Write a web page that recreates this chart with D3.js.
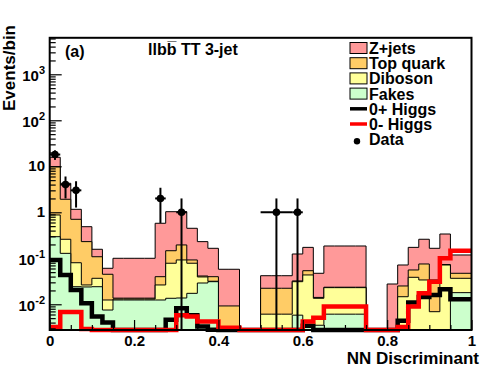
<!DOCTYPE html>
<html>
<head>
<meta charset="utf-8">
<script src="https://cdn.jsdelivr.net/npm/d3@7"></script>
<style>
  body { margin: 0; background: #fff; }
  text { font-family: "Liberation Sans", Arial, sans-serif; font-weight: bold; fill: #000; }
</style>
</head>
<body>
<svg id="chart" width="496" height="372"></svg>
<script>
// ---- data: 40 bins of 0.025 on the NN discriminant
var nBins = 40;
var binWidth = 0.025;

var fakes = [0.295, 0.128, 0.0241, 0.0238, 0.0241, 0.0075, 0.0124, 0.0124, 0.0124, 0.0124,
             0.0124, 0.0135, 0.0137, 0.0173, 0.029, 0.031, 0, 0, 0, 0,
             0, 0, 0, 0.0058, 0.0035, 0.0035, 0.0061, 0.0061, 0.0061, 0.0061,
             0, 0, 0, 0, 0, 0, 0, 0, 0.0179, 0.0179];
var diboson = [0.579, 0.131, 0.0559, 0.0025, 0.0126, 0.0049, 0.0006, 0.0006, 0.0006, 0.0006,
               0.0139, 0.0645, 0.0783, 0.0607, 0.0103, 0.0007, 0, 0, 0, 0,
               0.0061, 0.0061, 0.0061, 0.0252, 0.0399, 0.01, 0.0169, 0.0169, 0.0169, 0.0169,
               0, 0, 0, 0.0146, 0.0386, 0.0338, 0.0069, 0.0715, 0.0188, 0.0188];
var topQuark = [8.93, 1.66, 0.624, 0.204, 0.0713, 0.0325, 0.0006, 0.0006, 0.0006, 0.0006,
                0.0135, 0.068, 0.103, 0.014, 0.0019, 0.0081, 0.0092, 0.0092, 0, 0,
                0.0162, 0.0162, 0.0162, 0.0012, 0.0103, 0.0006, 0.0005, 0.0005, 0.0005, 0.0005,
                0, 0, 0, 0.0104, 0.0171, 0.0414, 0.0269, 0.0015, 0.0105, 0.0105];
var zJets = [5.9, 2.35, 0.456, 0.256, 0.049, 0.0157, 0.0864, 0.0864, 0.0864, 0.0864,
             0.537, 0.884, 0.835, 0.357, 0.189, 0.125, 0.0485, 0.0485, 0, 0,
             0.0195, 0.0195, 0.0195, 0.0918, 0.119, 0.0331, 0.1615, 0.1615, 0.1615, 0.1615,
             0, 0, 0.0276, 0.0465, 0.117, 0.184, 0.131, 0.264, 0.0708, 0.0708];

var higgsPlus = [0.092, 0.0434, 0.0205, 0.0105, 0.0054, 0.004, 0, 0, 0, 0,
                 0, 0.0046, 0.0082, 0.0058, 0.0033, 0.0028, 0, 0, 0, 0,
                 0, 0, 0, 0, 0.0034, 0, 0, 0, 0, 0,
                 0, 0, 0, 0.0044, 0.011, 0.0144, 0.0159, 0.0212, 0.0128, 0.0128];
var higgsMinus = [0.0032, 0.0068, 0.0068, 0.0029, 0, 0, 0, 0, 0, 0,
                  0, 0, 0.0058, 0.0054, 0.0042, 0.0042, 0.0031, 0.0031, 0, 0,
                  0, 0, 0, 0, 0.0042, 0.0051, 0.0089, 0.0089, 0.0089, 0.0089,
                  0, 0, 0, 0.0032, 0.009, 0.0173, 0.031, 0.100, 0.146, 0.146];

// observed data points
var dataX = [0.0125, 0.0375, 0.0625, 0.2625, 0.3125, 0.5375, 0.5875];
var dataN = [18, 4, 3, 2, 1, 1, 1];
var dataXErr = [0.0125, 0.0125, 0.0125, 0.0125, 0.0125, 0.0375, 0.0125];

var xMajor = [0, 0.2, 0.4, 0.6, 0.8, 1];
var xMinor = [0.05, 0.1, 0.15, 0.25, 0.3, 0.35, 0.45, 0.5, 0.55, 0.65, 0.7, 0.75, 0.85, 0.9, 0.95];
var yExponents = [-2, -1, 0, 1, 2, 3];

var legendItems = [
  { label: "Z+jets", type: "box", color: "#ff9999" },
  { label: "Top quark", type: "box", color: "#ffcc66" },
  { label: "Diboson", type: "box", color: "#ffff99" },
  { label: "Fakes", type: "box", color: "#ccffcc" },
  { label: "0+ Higgs", type: "line", color: "#000000" },
  { label: "0- Higgs", type: "line", color: "#ff0000" },
  { label: "Data", type: "marker", color: "#000000" }
];

// ---- scales
var svg = d3.select("#chart");
var x = d3.scaleLinear().domain([0, 1]).range([49.7, 471.5]);
var y = d3.scaleLog().domain([0.00276, 6214]).range([330, 37.8]).clamp(true);
var yBottom = y.range()[0];

function yv(v) { return y(Math.max(v, 1e-9)); }

// points of a step histogram
function stepPoints(vals) {
  var pts = [];
  vals.forEach(function (v, i) {
    pts.push([i * binWidth, v]);
    pts.push([(i + 1) * binWidth, v]);
  });
  return pts;
}

// ---- stacked backgrounds
var rows = d3.range(nBins).map(function (i) {
  return { fakes: fakes[i], diboson: diboson[i], top: topQuark[i], zjets: zJets[i] };
});
var keys = ["fakes", "diboson", "top", "zjets"];
var colors = { fakes: "#ccffcc", diboson: "#ffff99", top: "#ffcc66", zjets: "#ff9999" };
var stack = d3.stack().keys(keys)(rows);

var area = d3.area()
  .x(function (d) { return x(d[0]); })
  .y0(yBottom)
  .y1(function (d) { return yv(d[1]); });
var line = d3.line()
  .x(function (d) { return x(d[0]); })
  .y(function (d) { return yv(d[1]); });

// draw cumulative histograms from the top one down
stack.slice().reverse().forEach(function (s) {
  var cum = s.map(function (d) { return d[1]; });
  var pts = stepPoints(cum);
  svg.append("path")
    .attr("d", area(pts))
    .attr("fill", colors[s.key]);
  svg.append("path")
    .attr("d", line([[0, 0]].concat(pts, [[1, 0]])))
    .attr("fill", "none")
    .attr("stroke", "#000")
    .attr("stroke-width", 1);
});

// ---- signal lines
[[higgsPlus, "#000"], [higgsMinus, "#ff0000"]].forEach(function (h) {
  svg.append("path")
    .attr("d", line(stepPoints(h[0])))
    .attr("fill", "none")
    .attr("stroke", h[1])
    .attr("stroke-width", 4.5)
    .attr("stroke-linejoin", "miter");
});

// ---- data points with errors
var gData = svg.append("g");
dataX.forEach(function (xc, i) {
  var n = dataN[i], e = Math.sqrt(n);
  gData.append("line")
    .attr("x1", x(xc)).attr("x2", x(xc))
    .attr("y1", yv(n + e)).attr("y2", yv(n - e))
    .attr("stroke", "#000").attr("stroke-width", 2);
  gData.append("line")
    .attr("x1", x(xc - dataXErr[i])).attr("x2", x(xc + dataXErr[i]))
    .attr("y1", yv(n)).attr("y2", yv(n))
    .attr("stroke", "#000").attr("stroke-width", 2);
  gData.append("circle")
    .attr("cx", x(xc)).attr("cy", yv(n)).attr("r", 3.8)
    .attr("fill", "#000");
});

// ---- axes (ticks pointing inside the frame)
var xAxis = svg.append("g")
  .attr("transform", "translate(0," + yBottom + ")")
  .call(d3.axisBottom(x).tickValues(xMajor).tickSize(-10).tickPadding(5)
    .tickFormat(function (d) { return d3.format("")(d); }));
svg.append("g")
  .attr("transform", "translate(0," + yBottom + ")")
  .call(d3.axisBottom(x).tickValues(xMinor).tickSize(-5).tickFormat(""));

var yMinor = [];
d3.range(-3, 4).forEach(function (e) {
  for (var k = 2; k <= 9; k++) {
    var v = k * Math.pow(10, e);
    if (v > y.domain()[0] && v < y.domain()[1]) yMinor.push(v);
  }
});
var yMajor = yExponents.map(function (e) { return Math.pow(10, e); });

svg.append("g")
  .attr("transform", "translate(" + x.range()[0] + ",0)")
  .call(d3.axisLeft(y).tickValues(yMajor).tickSize(-12).tickFormat(""));
svg.append("g")
  .attr("transform", "translate(" + x.range()[0] + ",0)")
  .call(d3.axisLeft(y).tickValues(yMinor).tickSize(-6).tickFormat(""));

svg.selectAll(".domain").remove();
svg.selectAll(".tick line").attr("stroke", "#000").attr("stroke-width", 1.2);
xAxis.selectAll(".tick text")
  .style("font-size", "15px")
  .attr("font-family", null)
  .attr("fill", "#000");

// y labels: 10^n
yExponents.forEach(function (e) {
  var t = svg.append("text")
    .attr("x", 45)
    .attr("text-anchor", "end")
    .style("font-size", "15px");
  if (e === 0 || e === 1) {
    t.attr("y", y(Math.pow(10, e)) + 5).text(e === 0 ? "1" : "10");
  } else {
    t.attr("y", y(Math.pow(10, e)) + 7);
    t.append("tspan").text("10");
    t.append("tspan").attr("dy", -7).style("font-size", "11px").text(String(e));
  }
});

// frame
svg.append("rect")
  .attr("x", x.range()[0]).attr("y", y.range()[1])
  .attr("width", x.range()[1] - x.range()[0])
  .attr("height", yBottom - y.range()[1])
  .attr("fill", "none").attr("stroke", "#000").attr("stroke-width", 2);

// axis titles
svg.append("text")
  .attr("x", 479).attr("y", 364)
  .attr("text-anchor", "end")
  .style("font-size", "17px")
  .text("NN Discriminant");
svg.append("text")
  .attr("transform", "translate(15,25) rotate(-90)")
  .attr("text-anchor", "end")
  .style("font-size", "17px")
  .text("Events/bin");

// labels inside plot
svg.append("text").attr("x", 65).attr("y", 57).style("font-size", "16px").text("(a)");
svg.append("text").attr("x", 148).attr("y", 55).style("font-size", "16px").text("llbb\u0305 TT 3-jet");

// ---- legend
var lg = svg.append("g");
legendItems.forEach(function (it, i) {
  var cy = 48 + i * 15.2;
  if (it.type === "box") {
    lg.append("rect")
      .attr("x", 350).attr("y", cy - 5.5).attr("width", 17).attr("height", 11)
      .attr("fill", it.color).attr("stroke", "#000").attr("stroke-width", 1);
  } else if (it.type === "line") {
    lg.append("line")
      .attr("x1", 350).attr("x2", 367).attr("y1", cy).attr("y2", cy)
      .attr("stroke", it.color).attr("stroke-width", 3.5);
  } else {
    lg.append("circle").attr("cx", 357).attr("cy", cy + 2).attr("r", 3.2).attr("fill", it.color);
  }
  lg.append("text")
    .attr("x", 369).attr("y", cy + 6)
    .style("font-size", "16px")
    .text(it.label);
});
</script>
</body>
</html>
